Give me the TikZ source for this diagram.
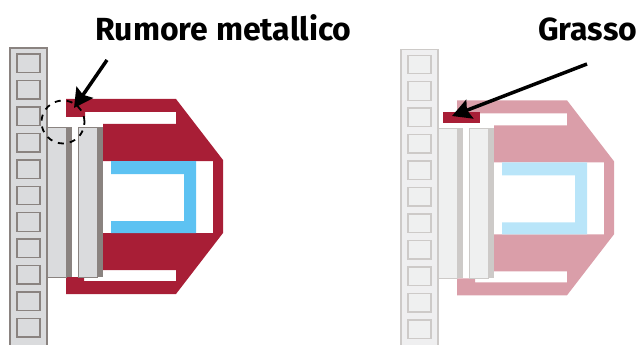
\documentclass[tikz,border=0pt]{standalone}
\usepackage{fontspec}
\setmainfont{Fira Sans}
\usepackage{tikz}
\usetikzlibrary{arrows.meta}
\usepackage{xcolor}
\definecolor{partred}{RGB}{168, 30, 54}
\definecolor{partblue}{RGB}{93, 194, 242}
\definecolor{partgray}{RGB}{218, 219, 221}
\definecolor{partedge}{RGB}{138, 131, 128}
\tikzstyle{label} = [font=\bfseries\fontsize{32}{38}\selectfont, anchor=base west, inner sep=0pt]
\tikzstyle{arrow} = [line width=3.5pt,-{Stealth[length=19pt,width=20pt,inset=3pt]}]
\tikzstyle{slot} = [draw=partedge!#1, fill=partgray!#1, line width=1.4pt]
\tikzstyle{plate} = [draw=partedge!#1, fill=partgray!#1, line width=0.7pt]
\tikzstyle{rib} = [fill=partedge!#1]

\newcommand{\drawclamp}[1]{
    % Rail
    \fill [partgray!#1] (10,48) rectangle (47,345);
    \draw [partedge!#1, line width=1.3pt] (10,345) -- (10,48) -- (47,48) -- (47,345);
    \foreach \row in {0,...,10} {
        \draw [slot=#1] (17,54+26.45*\row) rectangle (40,72.5+26.45*\row);
    }
    % Bracket
    \fill [partred!#1] (66,99) -- (176,99) -- (223,160) -- (223,233) -- (176,294) -- (66,294)
        -- (66,277) -- (84,277) -- (84,281) -- (176,281) -- (176,270) -- (103,270) -- (103,233)
        -- (213,233) -- (213,161) -- (103,161) -- (103,124) -- (176,124) -- (176,112)
        -- (85,112) -- (85,117) -- (66,117) -- cycle;
    \fill [partblue!#1] (111,161) -- (196,161) -- (196,233) -- (111,233) -- (111,221)
        -- (184,221) -- (184,174) -- (111,174) -- cycle;
    % Plates
    \draw [plate=#1] (47.5,127) rectangle (66,277);
    \fill [rib=#1] (66,127) rectangle (72,277);
    \draw [plate=#1] (78,127) rectangle (97,277);
    \fill [rib=#1] (97,127) rectangle (103,277);
}

\begin{document}
\begin{tikzpicture}[x=1pt, y=-1pt]
    \useasboundingbox (0,0) rectangle (638,345);

    % Left view
    \drawclamp{100}
    \node (ring) [draw, circle, line width=1.8pt, dash pattern=on 6pt off 6pt, minimum size=43pt, inner sep=0pt] at (63,122) {};

    % Right view
    \begin{scope}[shift={(391,1.3)}]
        \drawclamp{43}
    \end{scope}
    \node (grease) [fill=partred, minimum width=37pt, minimum height=11pt, inner sep=0pt] at (461.5,117.5) {};

    % Labels
    \node (noise) [label] at (95,41) {Rumore metallico};
    \node (fat) [label] at (538,41) {Grasso};

    % Arrows
    \coordinate (noisestart) at (107,60);
    \coordinate (noisetip) at (74,108);
    \coordinate (fatstart) at (587,64);
    \coordinate (fattip) at (452,116);
    \draw [arrow] (noisestart) -- (noisetip);
    \draw [arrow] (fatstart) -- (fattip);
\end{tikzpicture}
\end{document}
